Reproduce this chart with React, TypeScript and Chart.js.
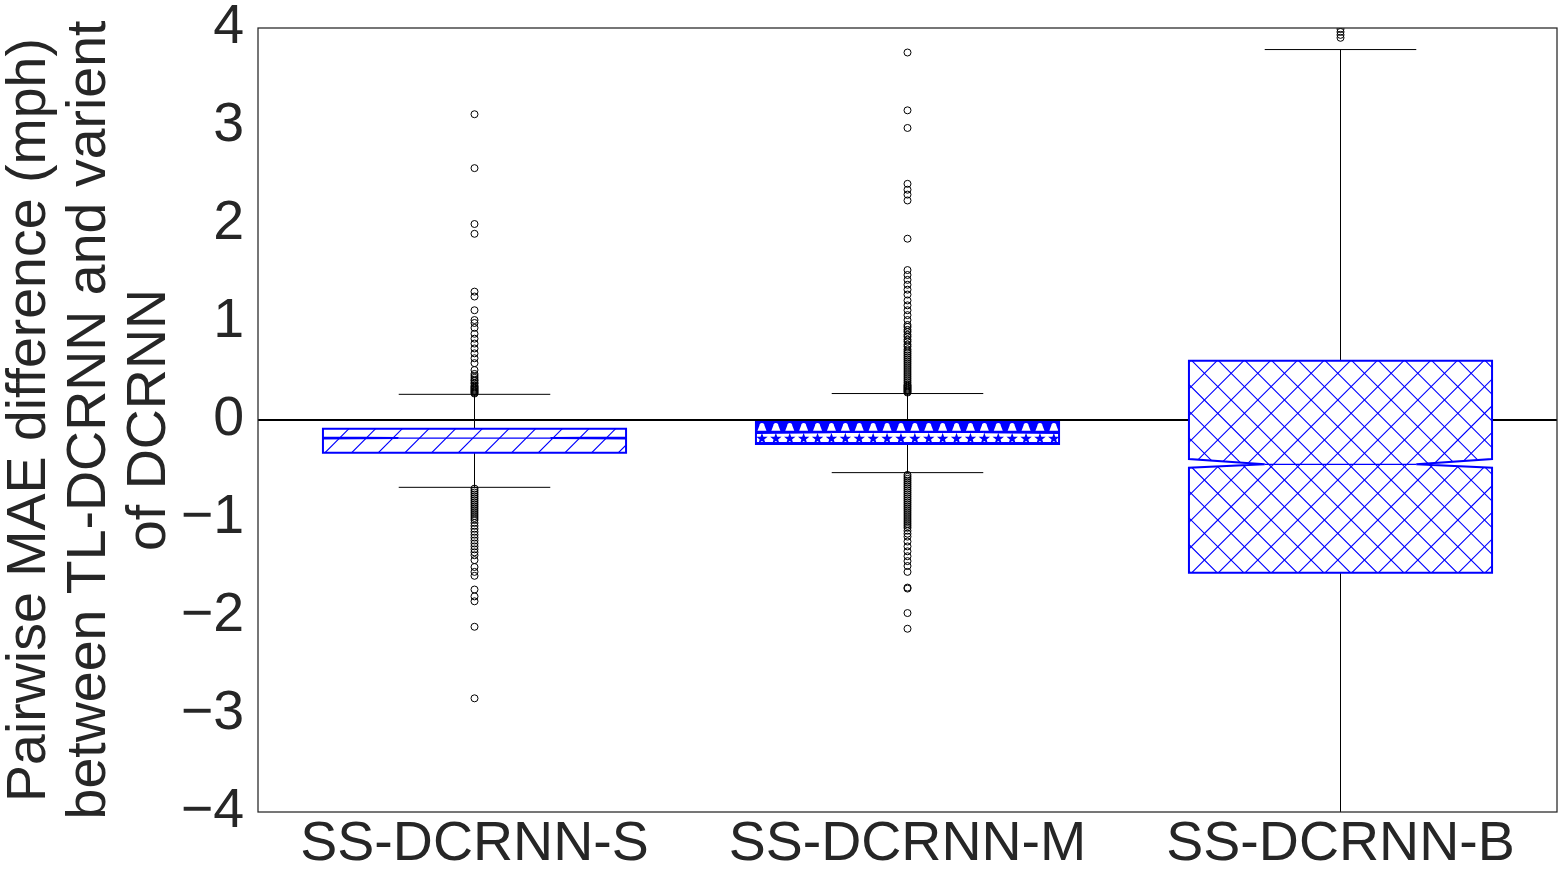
import React, { useEffect, useRef } from 'react';
import { Chart, registerables } from 'chart.js';

Chart.register(...registerables);

// ---------------- data ----------------
const categories = ['SS-DCRNN-S', 'SS-DCRNN-M', 'SS-DCRNN-B'];
const q1Values = [-0.334, -0.245, -1.558];
const medianValues = [-0.184, -0.126, -0.452];
const q3Values = [-0.089, -0.02, 0.605];
const notchLowValues = [-0.19, -0.132, -0.487];
const notchHighValues = [-0.178, -0.12, -0.398];
const whiskerLowValues = [-0.687, -0.537, -4.6];
const whiskerHighValues = [0.262, 0.27, 3.78];

const outliersS = [
  3.12, 2.57, 2.0, 1.9, 1.31, 1.26, 1.12, 1.02, 0.99, 0.94, 0.88, 0.83, 0.78, 0.73,
  0.68, 0.63, 0.58, 0.51, 0.47, 0.45, 0.43, 0.41, 0.4, 0.38, 0.37, 0.35, 0.34, 0.33,
  0.32, 0.31, 0.3, 0.29, 0.28, 0.27,
  -0.7, -0.72, -0.74, -0.76, -0.78, -0.8, -0.82, -0.84, -0.86, -0.88, -0.9, -0.92,
  -0.94, -0.96, -0.98, -1.0, -1.02, -1.05, -1.08, -1.11, -1.14, -1.17, -1.2, -1.23,
  -1.26, -1.29, -1.32, -1.35, -1.38, -1.43, -1.5, -1.55, -1.59, -1.73, -1.8, -1.85,
  -2.11, -2.84,
];
const outliersM = [
  3.75, 3.16, 2.98, 2.41, 2.35, 2.3, 2.24, 1.85, 1.53, 1.48, 1.43, 1.38, 1.33, 1.28,
  1.22, 1.17, 1.12, 1.07, 1.02, 0.97, 0.95, 0.92, 0.9, 0.87, 0.85, 0.82, 0.8, 0.77,
  0.75, 0.72, 0.7, 0.68, 0.66, 0.64, 0.62, 0.6, 0.58, 0.56, 0.54, 0.52, 0.5, 0.48,
  0.46, 0.44, 0.42, 0.4, 0.38, 0.36, 0.35, 0.34, 0.33, 0.32, 0.31, 0.3, 0.29, 0.28,
  -0.56, -0.58, -0.6, -0.62, -0.64, -0.66, -0.68, -0.7, -0.72, -0.74, -0.76, -0.78,
  -0.8, -0.82, -0.84, -0.86, -0.88, -0.9, -0.92, -0.94, -0.96, -0.98, -1.0, -1.02,
  -1.04, -1.06, -1.08, -1.1, -1.13, -1.16, -1.19, -1.24, -1.29, -1.34, -1.39, -1.44,
  -1.49, -1.55, -1.71, -1.72, -1.97, -2.13,
];
const outliersB = [3.9, 3.93, 3.96, 3.99, 4.03];
const outlierLists = [outliersS, outliersM, outliersB];
const hatchStyles = ['/', '*', 'x'];

const yTicks = [-4, -3, -2, -1, 0, 1, 2, 3, 4];
const yTitle = ['Pairwise MAE difference (mph)', 'between TL-DCRNN and varient', 'of DCRNN'];

// ---------------- styles ----------------
const FONT = "'Liberation Sans', Arial, Helvetica, sans-serif";
const TEXT = '#262626';
const BLUE = '#0000ff';
const HATCH_STEP = 26.67;

function starPath(ctx: CanvasRenderingContext2D, cx: number, cy: number, R: number) {
  const r = R * 0.4;
  ctx.moveTo(cx, cy - R);
  for (let i = 1; i < 10; i++) {
    const a = -Math.PI / 2 + (i * Math.PI) / 5;
    const rr = i % 2 === 0 ? R : r;
    ctx.lineTo(cx + rr * Math.cos(a), cy + rr * Math.sin(a));
  }
  ctx.closePath();
}

const boxPlugin = {
  id: 'boxPlugin',
  beforeDatasetsDraw(chart: any) {
    const { ctx, chartArea } = chart;
    const xs = chart.scales.x;
    const ys = chart.scales.y;
    const catW = xs.getPixelForValue(1) - xs.getPixelForValue(0);
    const boxW = catW * 0.7;
    ctx.save();
    ctx.beginPath();
    ctx.rect(chartArea.left, chartArea.top, chartArea.right - chartArea.left, chartArea.bottom - chartArea.top);
    ctx.clip();

    // zero line
    const y0 = ys.getPixelForValue(0);
    ctx.strokeStyle = '#000';
    ctx.lineWidth = 2;
    ctx.beginPath();
    ctx.moveTo(chartArea.left, y0);
    ctx.lineTo(chartArea.right, y0);
    ctx.stroke();

    categories.forEach((_, i) => {
      const cx = xs.getPixelForValue(i);
      const L = cx - boxW / 2;
      const R = cx + boxW / 2;
      const yq1 = ys.getPixelForValue(q1Values[i]);
      const yq3 = ys.getPixelForValue(q3Values[i]);
      const ym = ys.getPixelForValue(medianValues[i]);
      const ynl = ys.getPixelForValue(notchLowValues[i]);
      const ynh = ys.getPixelForValue(notchHighValues[i]);
      const ywl = ys.getPixelForValue(whiskerLowValues[i]);
      const ywh = ys.getPixelForValue(whiskerHighValues[i]);
      const capL = cx - boxW / 4;
      const capR = cx + boxW / 4;

      // whiskers + caps
      ctx.strokeStyle = '#000';
      ctx.lineWidth = 1;
      ctx.beginPath();
      ctx.moveTo(cx, yq1);
      ctx.lineTo(cx, ywl);
      ctx.moveTo(cx, yq3);
      ctx.lineTo(cx, ywh);
      ctx.moveTo(capL, ywl);
      ctx.lineTo(capR, ywl);
      ctx.moveTo(capL, ywh);
      ctx.lineTo(capR, ywh);
      ctx.stroke();

      // notched box path
      const path = () => {
        ctx.beginPath();
        ctx.moveTo(L, yq1);
        ctx.lineTo(L, ynl);
        ctx.lineTo(capL, ym);
        ctx.lineTo(L, ynh);
        ctx.lineTo(L, yq3);
        ctx.lineTo(R, yq3);
        ctx.lineTo(R, ynh);
        ctx.lineTo(capR, ym);
        ctx.lineTo(R, ynl);
        ctx.lineTo(R, yq1);
        ctx.closePath();
      };
      path();
      ctx.fillStyle = '#fff';
      ctx.fill();

      ctx.save();
      path();
      ctx.clip();
      const style = hatchStyles[i];
      ctx.strokeStyle = BLUE;
      ctx.fillStyle = BLUE;
      ctx.lineWidth = 1.1;
      const top = Math.min(yq3, yq1);
      const bot = Math.max(yq3, yq1);
      if (style === '/' || style === 'x') {
        ctx.beginPath();
        const start = Math.floor((L + top) / HATCH_STEP) * HATCH_STEP + 4.3;
        for (let s = start - HATCH_STEP * 2; s < R + bot + HATCH_STEP; s += HATCH_STEP) {
          ctx.moveTo(s - top, top);
          ctx.lineTo(s - bot, bot);
        }
        ctx.stroke();
        if (style === 'x') {
          ctx.beginPath();
          const start2 = Math.floor((L - bot) / HATCH_STEP) * HATCH_STEP + 4.3;
          for (let s = start2 - HATCH_STEP * 2; s < R - top + HATCH_STEP; s += HATCH_STEP) {
            ctx.moveTo(s + top, top);
            ctx.lineTo(s + bot, bot);
          }
          ctx.stroke();
        }
      } else if (style === '*') {
        ctx.fillStyle = BLUE;
        ctx.fillRect(L, top, R - L, ym - top);
        ctx.fillStyle = '#fff';
        const sp = 13.9;
        for (let x = L + 6; x < R; x += sp) {
          ctx.beginPath();
          ctx.moveTo(x - 4.5, ym - 1.5);
          ctx.lineTo(x - 2.5, top + 3.5);
          ctx.arc(x, top + 3.5, 2.5, Math.PI, 0);
          ctx.lineTo(x + 4.5, ym - 1.5);
          ctx.closePath();
          ctx.fill();
        }
        ctx.fillStyle = BLUE;
        const cy = (ym + bot) / 2 + 0.5;
        ctx.beginPath();
        for (let x = L + 6; x < R; x += sp) {
          starPath(ctx, x, cy, 6);
        }
        ctx.fill();
        ctx.fillRect(L, bot - 2, R - L, 2);
      }
      ctx.restore();

      // median
      ctx.strokeStyle = BLUE;
      ctx.lineWidth = 1.2;
      ctx.beginPath();
      ctx.moveTo(capL, ym);
      ctx.lineTo(capR, ym);
      ctx.stroke();

      // outline
      path();
      ctx.strokeStyle = BLUE;
      ctx.lineWidth = 2;
      ctx.stroke();
    });
    ctx.restore();
  },
  afterDraw(chart: any) {
    const { ctx, chartArea } = chart;
    ctx.save();
    ctx.strokeStyle = TEXT;
    ctx.lineWidth = 1.25;
    ctx.strokeRect(chartArea.left, chartArea.top, chartArea.right - chartArea.left, chartArea.bottom - chartArea.top);
    ctx.restore();
  },
};

export default function App() {
  const canvasRef = useRef<HTMLCanvasElement | null>(null);

  useEffect(() => {
    const canvas = canvasRef.current;
    if (!canvas) return;
    const points: { x: string; y: number }[] = [];
    outlierLists.forEach((list, i) => {
      list.forEach((v) => points.push({ x: categories[i], y: v }));
    });

    const chart = new Chart(canvas, {
      type: 'scatter',
      data: {
        labels: categories,
        datasets: [
          {
            data: points as any,
            pointRadius: 3.5,
            pointBorderWidth: 1,
            pointBorderColor: '#000',
            pointBackgroundColor: 'rgba(0,0,0,0)',
            pointHoverRadius: 3.5,
          },
        ],
      },
      options: {
        responsive: false,
        animation: false,
        events: [],
        layout: { padding: { top: 28, right: 10, left: 0, bottom: 0 } },
        plugins: {
          legend: { display: false },
          tooltip: { enabled: false },
        },
        scales: {
          x: {
            type: 'category',
            labels: categories,
            offset: true,
            grid: { display: false, drawTicks: false },
            border: { display: false },
            ticks: {
              color: TEXT,
              padding: -1,
              font: { family: FONT, size: 55.5 },
              maxRotation: 0,
              autoSkip: false,
            },
            afterFit: (scale: any) => {
              scale.height = 70;
              scale.paddingLeft = 0;
              scale.paddingRight = 0;
            },
          },
          y: {
            type: 'linear',
            min: -4,
            max: 4,
            grid: { display: false, drawTicks: false },
            border: { display: false },
            afterBuildTicks: (scale: any) => {
              scale.ticks = yTicks.map((v) => ({ value: v }));
            },
            ticks: {
              color: TEXT,
              padding: 14,
              font: { family: FONT, size: 55.5 },
              callback: (v: any) => (Number(v) < 0 ? '\u2212' + Math.abs(Number(v)) : String(v)),
            },
            title: {
              display: true,
              text: yTitle,
              color: TEXT,
              padding: 0,
              font: { family: FONT, size: 55.5, lineHeight: '60px' as any },
            },
            afterFit: (scale: any) => {
              scale.width = 258;
              scale.paddingTop = 0;
              scale.paddingBottom = 0;
            },
          },
        },
      },
      plugins: [boxPlugin],
    });
    return () => chart.destroy();
  }, []);

  return (
    <div style={{ position: 'fixed', left: 0, top: 0, width: 1567, height: 882, background: '#fff' }}>
      <canvas ref={canvasRef} width={1567} height={882} style={{ width: 1567, height: 882, display: 'block' }} />
    </div>
  );
}
